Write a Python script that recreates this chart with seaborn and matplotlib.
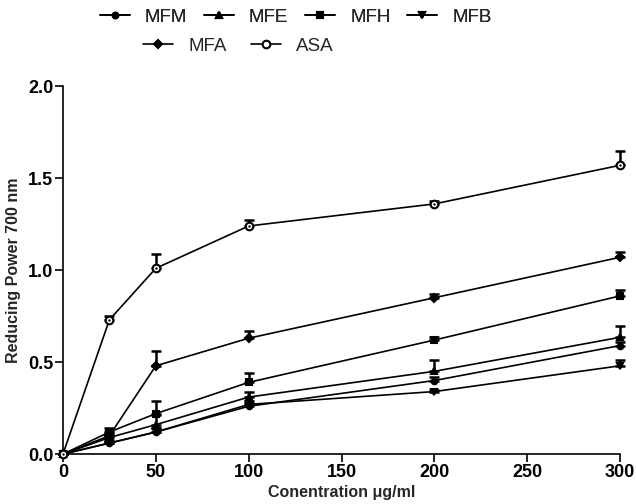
import matplotlib
matplotlib.use("Agg")
import matplotlib.pyplot as plt
import seaborn as sns
import numpy as np
from matplotlib.lines import Line2D

sns.set_style("ticks")
plt.rcParams['font.family'] = ['Liberation Sans', 'DejaVu Sans']

conc = [0, 25, 50, 100, 200, 300]
series_names = ["MFM", "MFE", "MFH", "MFB", "MFA", "ASA"]
mfm = [0, 0.06, 0.12, 0.26, 0.40, 0.59]
mfe = [0, 0.09, 0.16, 0.31, 0.45, 0.635]
mfh = [0, 0.12, 0.22, 0.39, 0.62, 0.86]
mfb = [0, 0.06, 0.12, 0.27, 0.34, 0.48]
mfa = [0, 0.10, 0.48, 0.63, 0.85, 1.07]
asa = [0, 0.73, 1.01, 1.24, 1.36, 1.57]
err_mfm = [0, 0.01, 0.02, 0.02, 0.02, 0.02]
err_mfe = [0, 0.02, 0.05, 0.03, 0.06, 0.06]
err_mfh = [0, 0.02, 0.07, 0.05, 0.015, 0.03]
err_mfb = [0, 0.01, 0.02, 0.02, 0.01, 0.03]
err_mfa = [0, 0.02, 0.08, 0.04, 0.02, 0.03]
err_asa = [0, 0.02, 0.08, 0.03, 0.015, 0.08]

values = [mfm, mfe, mfh, mfb, mfa, asa]
errors = [err_mfm, err_mfe, err_mfh, err_mfb, err_mfa, err_asa]
markers = ['o', '^', 's', 'v', 'D', 'o']
msizes = [4, 5, 5, 5, 4, 5.5]
faces = ['black', 'black', 'black', 'black', 'black', 'white']

fig = plt.figure(figsize=(6.36, 5.04), dpi=100)
ax = fig.add_axes([0.099, 0.099, 0.876, 0.730])

handles = []
for name, v, e, m, ms, fc in zip(series_names, values, errors, markers, msizes, faces):
    sns.lineplot(x=conc, y=v, ax=ax, color='black', linewidth=1.2, marker=m,
                 markersize=ms, markerfacecolor=fc, markeredgecolor='black',
                 markeredgewidth=1.5, clip_on=False, zorder=3)
    ax.errorbar(conc, v, yerr=[np.zeros(len(e)), e], fmt='none', ecolor='black',
                elinewidth=1.8, capsize=3.5, capthick=1.8, clip_on=False, zorder=2)
    handles.append(Line2D([0], [0], color='black', linewidth=1.2, marker=m,
                          markersize=ms, markerfacecolor=fc, markeredgecolor='black',
                          markeredgewidth=1.5, label=name))
# center dot of the ASA markers
sns.scatterplot(x=conc, y=asa, ax=ax, color='black', s=3, linewidth=0, zorder=4,
                clip_on=False, legend=False)

ax.set_xlim(0, 300)
ax.set_ylim(0, 2.0)
ax.set_xticks([0, 50, 100, 150, 200, 250, 300])
ax.set_yticks([0.0, 0.5, 1.0, 1.5, 2.0])
ax.set_yticklabels(["0.0", "0.5", "1.0", "1.5", "2.0"])
sns.despine(ax=ax)
ax.tick_params(axis='both', direction='out', length=6, width=1.2, labelsize=13,
               colors='black', pad=1)
for lab in ax.get_xticklabels() + ax.get_yticklabels():
    lab.set_fontweight('bold')
for sp in ['left', 'bottom']:
    ax.spines[sp].set_linewidth(1.2)
    ax.spines[sp].set_color('black')

ax.set_xlabel("Conentration \u03bcg/ml", fontsize=11.5, fontweight='bold', labelpad=3)
ax.set_ylabel("Reducing Power 700 nm", fontsize=11.5, fontweight='bold', labelpad=5)

leg1 = fig.legend(handles=handles[:4], loc='upper center', bbox_to_anchor=(0.465, 1.005),
                  ncol=4, frameon=False, fontsize=13.5, handlelength=1.6,
                  columnspacing=0.9, handletextpad=0.8, borderaxespad=0.2)
leg2 = fig.legend(handles=handles[4:], loc='upper center', bbox_to_anchor=(0.375, 0.948),
                  ncol=2, frameon=False, fontsize=13.5, handlelength=1.6,
                  columnspacing=1.3, handletextpad=0.8, borderaxespad=0.2)
fig.add_artist(leg1)

fig.savefig("out.png", dpi=100)
